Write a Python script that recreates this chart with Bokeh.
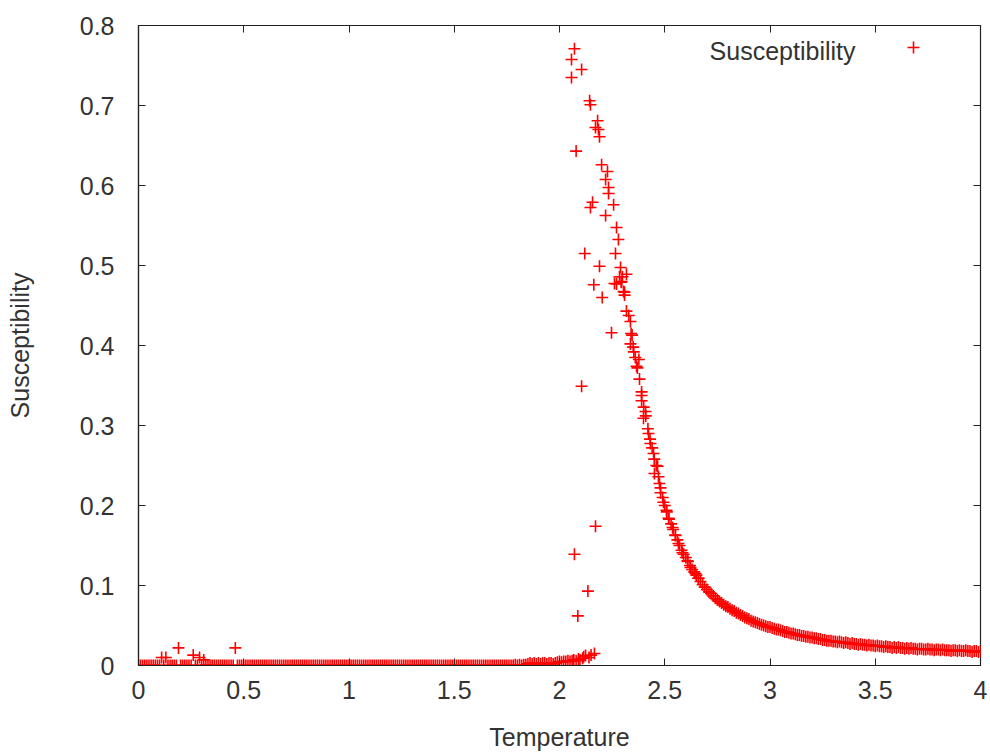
from bokeh.plotting import figure
from bokeh.models import (Range1d, FixedTicker, LinearAxis, Label, Legend, LegendItem,
                          ColumnDataSource, CustomLabelingPolicy)
from bokeh.embed import file_html
from bokeh.resources import INLINE

# ---------------- data ----------------
x_ticks = [0, 0.5, 1, 1.5, 2, 2.5, 3, 3.5, 4]
x_tick_labels = ["0", "0.5", "1", "1.5", "2", "2.5", "3", "3.5", "4"]
y_ticks = [0, 0.1, 0.2, 0.3, 0.4, 0.5, 0.6, 0.7, 0.8]
y_tick_labels = ["0", "0.1", "0.2", "0.3", "0.4", "0.5", "0.6", "0.7", "0.8"]

# low-temperature (ordered) region
low_T = [
    0.00, 0.01, 0.02, 0.03, 0.04, 0.05, 0.06, 0.07, 0.08, 0.09,
    0.10, 0.11, 0.12, 0.13, 0.14, 0.15, 0.16, 0.17, 0.18, 0.19,
    0.20, 0.21, 0.22, 0.23, 0.24, 0.25, 0.26, 0.27, 0.28, 0.29,
    0.30, 0.31, 0.32, 0.33, 0.34, 0.35, 0.36, 0.37, 0.38, 0.39,
    0.40, 0.41, 0.42, 0.43, 0.44, 0.45, 0.46, 0.47, 0.48, 0.49,
    0.50, 0.51, 0.52, 0.53, 0.54, 0.55, 0.56, 0.57, 0.58, 0.59,
    0.60, 0.61, 0.62, 0.63, 0.64, 0.65, 0.66, 0.67, 0.68, 0.69,
    0.70, 0.71, 0.72, 0.73, 0.74, 0.75, 0.76, 0.77, 0.78, 0.79,
    0.80, 0.81, 0.82, 0.83, 0.84, 0.85, 0.86, 0.87, 0.88, 0.89,
    0.90, 0.91, 0.92, 0.93, 0.94, 0.95, 0.96, 0.97, 0.98, 0.99,
    1.00, 1.01, 1.02, 1.03, 1.04, 1.05, 1.06, 1.07, 1.08, 1.09,
    1.10, 1.11, 1.12, 1.13, 1.14, 1.15, 1.16, 1.17, 1.18, 1.19,
    1.20, 1.21, 1.22, 1.23, 1.24, 1.25, 1.26, 1.27, 1.28, 1.29,
    1.30, 1.31, 1.32, 1.33, 1.34, 1.35, 1.36, 1.37, 1.38, 1.39,
    1.40, 1.41, 1.42, 1.43, 1.44, 1.45, 1.46, 1.47, 1.48, 1.49,
    1.50, 1.51, 1.52, 1.53, 1.54, 1.55, 1.56, 1.57, 1.58, 1.59,
    1.60, 1.61, 1.62, 1.63, 1.64, 1.65, 1.66, 1.67, 1.68, 1.69,
    1.70, 1.71, 1.72, 1.73, 1.74, 1.75, 1.76, 1.77, 1.78, 1.79,
    1.80, 1.81, 1.82, 1.83, 1.84, 1.85, 1.86, 1.87, 1.88, 1.89,
    1.90, 1.91, 1.92, 1.93, 1.94, 1.95, 1.96, 1.97, 1.98, 1.99,
    2.00, 2.01, 2.02, 2.03, 2.04,
]
low_chi = [
    0.000, 0.000, 0.000, 0.000, 0.000, 0.000, 0.000, 0.000, 0.000, 0.000,
    0.000, 0.010, 0.000, 0.010, 0.000, 0.000, 0.000, 0.000, 0.000, 0.022,
    0.000, 0.000, 0.000, 0.000, 0.000, 0.000, 0.013, 0.000, 0.000, 0.010,
    0.000, 0.007, 0.001, 0.000, 0.000, 0.000, 0.000, 0.000, 0.000, 0.000,
    0.000, 0.000, 0.000, 0.000, 0.000, 0.000, 0.022, 0.000, 0.000, 0.000,
    0.000, 0.000, 0.000, 0.000, 0.000, 0.000, 0.000, 0.000, 0.000, 0.000,
    0.000, 0.000, 0.000, 0.000, 0.000, 0.000, 0.000, 0.000, 0.000, 0.000,
    0.000, 0.000, 0.000, 0.000, 0.000, 0.000, 0.000, 0.000, 0.000, 0.000,
    0.000, 0.000, 0.000, 0.000, 0.000, 0.000, 0.000, 0.000, 0.000, 0.000,
    0.000, 0.000, 0.000, 0.000, 0.000, 0.000, 0.000, 0.000, 0.000, 0.000,
    0.000, 0.000, 0.000, 0.000, 0.000, 0.000, 0.000, 0.000, 0.000, 0.000,
    0.000, 0.000, 0.000, 0.000, 0.000, 0.000, 0.000, 0.000, 0.000, 0.000,
    0.000, 0.000, 0.000, 0.000, 0.000, 0.000, 0.000, 0.000, 0.000, 0.000,
    0.000, 0.000, 0.000, 0.000, 0.000, 0.000, 0.000, 0.000, 0.000, 0.000,
    0.000, 0.000, 0.000, 0.000, 0.000, 0.000, 0.000, 0.000, 0.000, 0.000,
    0.000, 0.000, 0.000, 0.000, 0.000, 0.000, 0.000, 0.000, 0.000, 0.000,
    0.000, 0.000, 0.000, 0.000, 0.000, 0.000, 0.000, 0.000, 0.000, 0.000,
    0.000, 0.000, 0.000, 0.000, 0.000, 0.000, 0.000, 0.000, 0.000, 0.001,
    0.000, 0.001, 0.000, 0.001, 0.001, 0.002, 0.003, 0.002, 0.003, 0.002,
    0.003, 0.002, 0.003, 0.003, 0.002, 0.003, 0.003, 0.002, 0.003, 0.004,
    0.005, 0.004, 0.005, 0.005, 0.006,
]

# transition region (scattered points)
mid_T = [
    2.057, 2.057, 2.071, 2.105, 2.143, 2.147, 2.181, 2.171, 2.185, 2.190,
    2.079, 2.200, 2.228, 2.219, 2.233, 2.233, 2.257, 2.157, 2.147, 2.219,
    2.271, 2.280, 2.266, 2.120, 2.190, 2.290, 2.318, 2.295, 2.261, 2.163,
    2.304, 2.203, 2.318, 2.329, 2.285, 2.299, 2.271, 2.293, 2.309, 2.309,
    2.337, 2.247, 2.345, 2.337, 2.353, 2.377, 2.366, 2.105, 2.171, 2.071,
    2.135, 2.087, 2.068, 2.079, 2.097, 2.110, 2.124, 2.140, 2.166, 2.050,
    2.060, 2.090, 2.115, 2.150,
    2.390, 2.390, 2.399, 2.409, 2.423, 2.432, 2.447, 2.451, 2.466, 2.475,
    2.480, 2.494, 2.508, 2.518, 2.537, 2.551, 2.565, 2.584, 2.608, 2.622,
    2.646, 2.660,
]
mid_chi = [
    0.7575, 0.735, 0.771, 0.745, 0.706, 0.701, 0.681, 0.6725, 0.670, 0.661,
    0.643, 0.626, 0.6175, 0.6075, 0.5975, 0.590, 0.576, 0.579, 0.5725, 0.5625,
    0.5475, 0.5325, 0.515, 0.515, 0.499, 0.4975, 0.489, 0.480, 0.4775, 0.476,
    0.4675, 0.460, 0.443, 0.4375, 0.486, 0.486, 0.477, 0.479, 0.4666, 0.463,
    0.430, 0.416, 0.413, 0.402, 0.392, 0.3825, 0.374, 0.349, 0.174, 0.139,
    0.093, 0.062, 0.007, 0.006, 0.007, 0.009, 0.0125, 0.010, 0.015, 0.005,
    0.006, 0.008, 0.011, 0.013,
    0.3375, 0.331, 0.309, 0.3175, 0.290, 0.2775, 0.265, 0.240, 0.249, 0.2275,
    0.216, 0.204, 0.194, 0.184, 0.1725, 0.1625, 0.1525, 0.141, 0.131, 0.1225,
    0.115, 0.109,
]

# high-temperature (disordered) region
high_T = [
    2.34, 2.35, 2.36, 2.37, 2.38, 2.39, 2.40, 2.41, 2.42, 2.43,
    2.44, 2.45, 2.46, 2.47, 2.48, 2.49, 2.50, 2.51, 2.52, 2.53,
    2.54, 2.55, 2.56, 2.57, 2.58, 2.59, 2.60, 2.61, 2.62, 2.63,
    2.64, 2.65, 2.66, 2.67, 2.68, 2.69, 2.70, 2.71, 2.72, 2.73,
    2.74, 2.75, 2.76, 2.77, 2.78, 2.79, 2.80, 2.81, 2.82, 2.83,
    2.84, 2.85, 2.86, 2.87, 2.88, 2.89, 2.90, 2.91, 2.92, 2.93,
    2.94, 2.95, 2.96, 2.97, 2.98, 2.99, 3.00, 3.01, 3.02, 3.03,
    3.04, 3.05, 3.06, 3.07, 3.08, 3.09, 3.10, 3.11, 3.12, 3.13,
    3.14, 3.15, 3.16, 3.17, 3.18, 3.19, 3.20, 3.21, 3.22, 3.23,
    3.24, 3.25, 3.26, 3.27, 3.28, 3.29, 3.30, 3.31, 3.32, 3.33,
    3.34, 3.35, 3.36, 3.37, 3.38, 3.39, 3.40, 3.41, 3.42, 3.43,
    3.44, 3.45, 3.46, 3.47, 3.48, 3.49, 3.50, 3.51, 3.52, 3.53,
    3.54, 3.55, 3.56, 3.57, 3.58, 3.59, 3.60, 3.61, 3.62, 3.63,
    3.64, 3.65, 3.66, 3.67, 3.68, 3.69, 3.70, 3.71, 3.72, 3.73,
    3.74, 3.75, 3.76, 3.77, 3.78, 3.79, 3.80, 3.81, 3.82, 3.83,
    3.84, 3.85, 3.86, 3.87, 3.88, 3.89, 3.90, 3.91, 3.92, 3.93,
    3.94, 3.95, 3.96, 3.97, 3.98, 3.99, 4.00,
]
high_chi = [
    0.415, 0.398, 0.385, 0.372, 0.358, 0.342, 0.323, 0.312, 0.296, 0.283,
    0.272, 0.258, 0.250, 0.236, 0.222, 0.210, 0.200, 0.192, 0.183, 0.177,
    0.170, 0.163, 0.157, 0.150, 0.144, 0.139, 0.135, 0.130, 0.125, 0.120,
    0.117, 0.113, 0.109, 0.105, 0.101, 0.098, 0.095, 0.092, 0.090, 0.087,
    0.084, 0.082, 0.080, 0.078, 0.076, 0.074, 0.073, 0.071, 0.069, 0.068,
    0.066, 0.065, 0.063, 0.062, 0.060, 0.059, 0.058, 0.056, 0.055, 0.054,
    0.053, 0.052, 0.051, 0.050, 0.049, 0.048, 0.048, 0.047, 0.046, 0.045,
    0.045, 0.044, 0.043, 0.042, 0.042, 0.041, 0.040, 0.040, 0.039, 0.038,
    0.038, 0.037, 0.037, 0.036, 0.036, 0.035, 0.035, 0.034, 0.034, 0.033,
    0.033, 0.032, 0.032, 0.031, 0.031, 0.031, 0.030, 0.030, 0.029, 0.030,
    0.029, 0.028, 0.029, 0.028, 0.027, 0.028, 0.027, 0.027, 0.026, 0.027,
    0.026, 0.026, 0.025, 0.026, 0.025, 0.025, 0.024, 0.025, 0.024, 0.024,
    0.023, 0.024, 0.023, 0.023, 0.022, 0.023, 0.022, 0.023, 0.022, 0.022,
    0.021, 0.022, 0.021, 0.022, 0.021, 0.021, 0.020, 0.021, 0.021, 0.020,
    0.020, 0.021, 0.020, 0.020, 0.019, 0.020, 0.020, 0.019, 0.020, 0.019,
    0.019, 0.019, 0.018, 0.019, 0.019, 0.018, 0.019, 0.018, 0.018, 0.019,
    0.018, 0.018, 0.017, 0.018, 0.018, 0.017, 0.018,
]

series_label = "Susceptibility"
x_label = "Temperature"
y_label = "Susceptibility"

# ---------------- figure ----------------
FONT = "Liberation Sans"
TXT = "#333333"
FS = "25px"

p = figure(width=990, height=753, output_backend="svg", toolbar_location=None,
           x_range=Range1d(0, 4), y_range=Range1d(0, 0.8),
           min_border_left=138, min_border_right=10, min_border_top=25,
           min_border_bottom=88)
p.grid.visible = False
p.outline_line_color = "#222222"
p.outline_line_width = 1.2
p.background_fill_color = "white"
p.border_fill_color = "white"

T_all = low_T + mid_T + high_T
chi_all = low_chi + mid_chi + high_chi
src = ColumnDataSource(dict(T=T_all, chi=chi_all))
r = p.scatter("T", "chi", source=src, marker="cross", size=12,
              line_color="#ff0000", line_width=1.6)

xt = FixedTicker(ticks=x_ticks)
yt = FixedTicker(ticks=y_ticks)
x_over = {t: l for t, l in zip(x_ticks, x_tick_labels)}
y_over = {t: l for t, l in zip(y_ticks, y_tick_labels)}

def style(ax):
    ax.major_tick_in = 7
    ax.major_tick_out = 0
    ax.minor_tick_line_color = None
    ax.major_tick_line_color = "#222222"
    ax.major_tick_line_width = 1
    ax.axis_line_color = "#222222"
    ax.axis_line_width = 1.2
    ax.major_label_text_font = FONT
    ax.major_label_text_font_size = FS
    ax.major_label_text_color = TXT
    ax.axis_label_text_font = FONT
    ax.axis_label_text_font_size = FS
    ax.axis_label_text_font_style = "normal"
    ax.axis_label_text_color = TXT

xa = p.xaxis[0]
style(xa)
xa.ticker = xt
xa.major_label_overrides = x_over
xa.major_label_standoff = 15
xa.axis_label = x_label
xa.axis_label_standoff = 21

ya = p.yaxis[0]
style(ya)
ya.ticker = yt
ya.major_label_overrides = y_over
ya.major_label_standoff = 24
ya.axis_label = y_label
ya.axis_label_standoff = 43

# mirrored tick marks on the top and right edges, without labels
no_labels = CustomLabelingPolicy(code="""
    for (let i = 0; i < indices.size; i++) { indices.unset(i) }
    return indices
""")
for loc, tk in (("above", xt), ("right", yt)):
    ax = LinearAxis(ticker=tk)
    style(ax)
    ax.major_label_text_font_size = "0px"
    ax.major_label_standoff = 0
    ax.major_label_policy = no_labels
    ax.axis_line_color = None
    p.add_layout(ax, loc)

# key: text on the left, marker sample on the right
p.add_layout(Label(x=717, y=615, x_units="screen", y_units="screen",
                   text=series_label, text_align="right",
                   text_baseline="alphabetic", text_font=FONT,
                   text_font_size=FS, text_color=TXT))
leg = Legend(items=[LegendItem(label="", renderers=[r])],
             location=(760, 603), padding=0, margin=0, spacing=0,
             glyph_width=30, glyph_height=30, label_width=0,
             label_standoff=0, label_height=0,
             border_line_color=None, background_fill_alpha=0)
p.add_layout(leg, "center")

open("out.html", "w").write(file_html(p, INLINE))
